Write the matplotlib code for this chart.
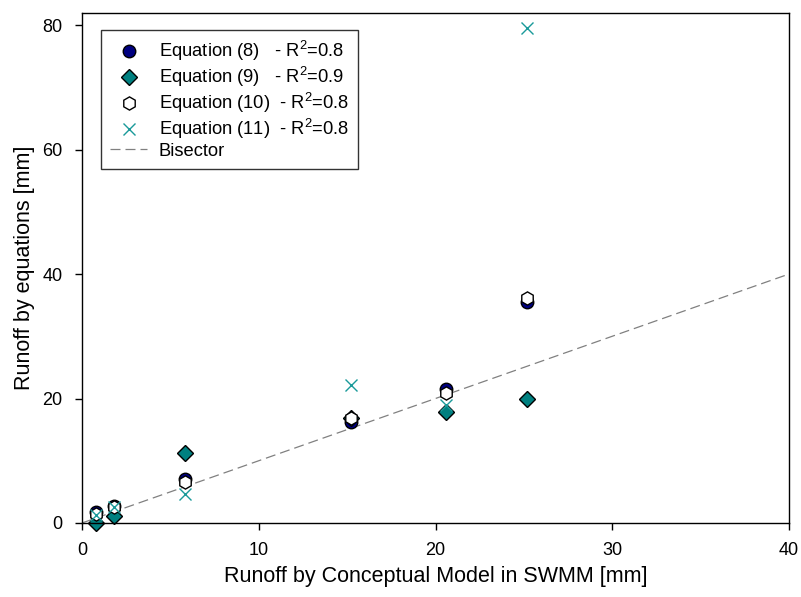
import matplotlib
matplotlib.use("Agg")
import matplotlib.pyplot as plt

plt.rcParams['font.family'] = ['Liberation Sans', 'DejaVu Sans']
plt.rcParams['mathtext.fontset'] = 'custom'
plt.rcParams['mathtext.rm'] = 'Liberation Sans'
plt.rcParams['mathtext.it'] = 'Liberation Sans:italic'

# Runoff by conceptual model in SWMM [mm]
swmm = [0.8, 1.8, 5.8, 15.2, 20.6, 25.2]

# Runoff by equations [mm]
eq8 = [1.8, 2.8, 7.1, 16.3, 21.5, 35.5]
eq9 = [0.0, 1.1, 11.2, 16.9, 17.9, 20.0]
eq10 = [1.5, 2.6, 6.6, 16.8, 20.9, 36.2]
eq11 = [1.3, 2.5, 4.7, 22.1, 19.0, 79.6]

bisector = [0, 40]

labels = ["Equation (8)   - R$^2$=0.8",
          "Equation (9)   - R$^2$=0.9",
          "Equation (10)  - R$^2$=0.8",
          "Equation (11)  - R$^2$=0.8",
          "Bisector"]

fig = plt.figure(figsize=(8.01, 5.97), dpi=100)
ax = fig.add_axes([0.1024, 0.124, 0.8826, 0.8548])

ax.plot(swmm, eq8, 'o', color='#000080', mec='black', mew=1, ms=9,
        clip_on=False, label=labels[0])
ax.plot(swmm, eq9, 'D', color='#008080', mec='black', mew=1, ms=8,
        clip_on=False, label=labels[1])
ax.plot(swmm, eq10, 'h', color='white', mec='black', mew=1, ms=9.5,
        clip_on=False, label=labels[2])
ax.plot(swmm, eq11, 'x', color='#1a9a9a', mew=1, ms=8,
        clip_on=False, label=labels[3])
ax.plot(bisector, bisector, color='#808080', lw=0.9, dashes=(8, 4),
        label=labels[4], zorder=1)

ax.set_xlim(0, 40)
ax.set_ylim(0, 82)
ax.set_xticks([0, 10, 20, 30, 40])
ax.set_yticks([0, 20, 40, 60, 80])
ax.tick_params(direction='out', length=5, width=1, labelsize=13, pad=9)
for s in ax.spines.values():
    s.set_linewidth(1)

ax.set_xlabel("Runoff by Conceptual Model in SWMM [mm]", fontsize=15.5, labelpad=5)
ax.set_ylabel("Runoff by equations [mm]", fontsize=15.5, labelpad=5)

leg = ax.legend(loc='upper left', bbox_to_anchor=(0.027, 0.966), borderaxespad=0,
                fontsize=13.2, numpoints=1, handlelength=2.0, handletextpad=0.65,
                labelspacing=0.1, borderpad=0.5, fancybox=False)
leg.get_frame().set_edgecolor('black')
leg.get_frame().set_linewidth(1)

plt.savefig("out.png", dpi=100)
